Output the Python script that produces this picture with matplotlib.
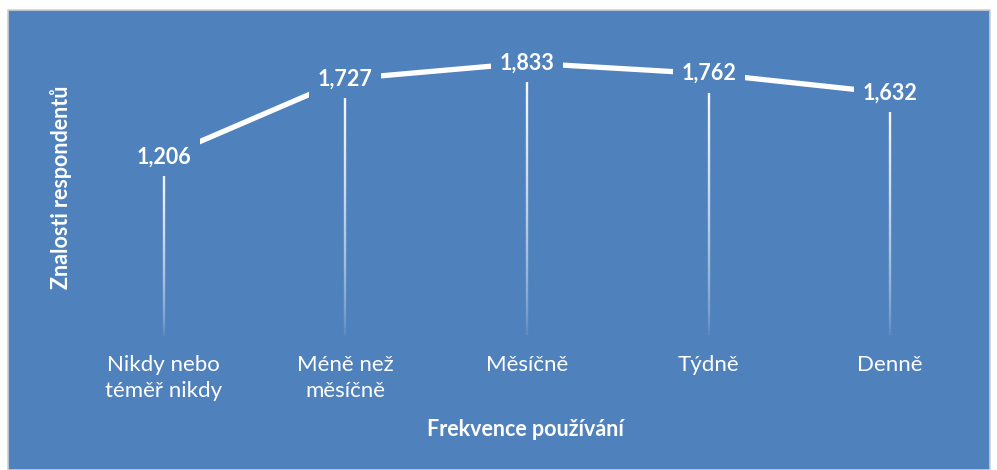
import matplotlib.pyplot as plt
import numpy as np
from matplotlib.collections import LineCollection
from matplotlib.patches import Rectangle

plt.rcParams['font.family'] = ['Lato', 'DejaVu Sans']

# data
categories = ['Nikdy nebo\ntéměř nikdy', 'Méně než\nměsíčně', 'Měsíčně', 'Týdně', 'Denně']
values = [1.206, 1.727, 1.833, 1.762, 1.632]
value_labels = ['1,206', '1,727', '1,833', '1,762', '1,632']

blue = '#4F81BD'

fig = plt.figure(figsize=(9.97, 4.70), dpi=100)
fig.patch.set_facecolor('white')
# blue chart area with thin grey border
fig.patches.append(Rectangle((8 / 997, 0), 982 / 997, 460 / 470, transform=fig.transFigure,
                             facecolor=blue, edgecolor='#D0D0D0', linewidth=1.2, zorder=-5))

ax = fig.add_axes([73 / 997, 1 - 338 / 470, 908 / 997, 300 / 470])
ax.set_facecolor('none')
x = np.arange(len(categories))

# drop lines fading to the bottom
n = 80
for xi, v in zip(x, values):
    ys = np.linspace(0, v, n + 1)
    segs = [[(xi, ys[i]), (xi, ys[i + 1])] for i in range(n)]
    alphas = np.linspace(0, 1, n) ** 0.6
    cols = [(1, 1, 1, a) for a in alphas]
    ax.add_collection(LineCollection(segs, colors=cols, linewidths=1.7, zorder=2))

ax.plot(x, values, color='white', linewidth=3.8, solid_capstyle='butt', zorder=3)

for xi, v, lab in zip(x, values, value_labels):
    ax.text(xi, v, lab, ha='center', va='center', color='white', fontsize=15.5,
            fontweight='bold', zorder=5,
            bbox=dict(boxstyle='square,pad=0.4', facecolor=blue, edgecolor='none'))

ax.set_xlim(-0.5, 4.5)
ax.set_ylim(0, 2.0)
ax.set_xticks(x)
ax.set_xticklabels(categories, color='white', fontsize=16, linespacing=1.4)
ax.tick_params(axis='x', length=0, pad=12)
ax.set_yticks([])
for s in ax.spines.values():
    s.set_visible(False)

fig.text(525 / 997, 1 - 430 / 470, 'Frekvence používání', ha='center', va='center',
         color='white', fontsize=15.5, fontweight='bold')
fig.text(61 / 997, 1 - 187 / 470, 'Znalosti respondentů', ha='center', va='center',
         rotation=90, color='white', fontsize=15.5, fontweight='bold')

fig.savefig('out.png', dpi=100, facecolor='white')
